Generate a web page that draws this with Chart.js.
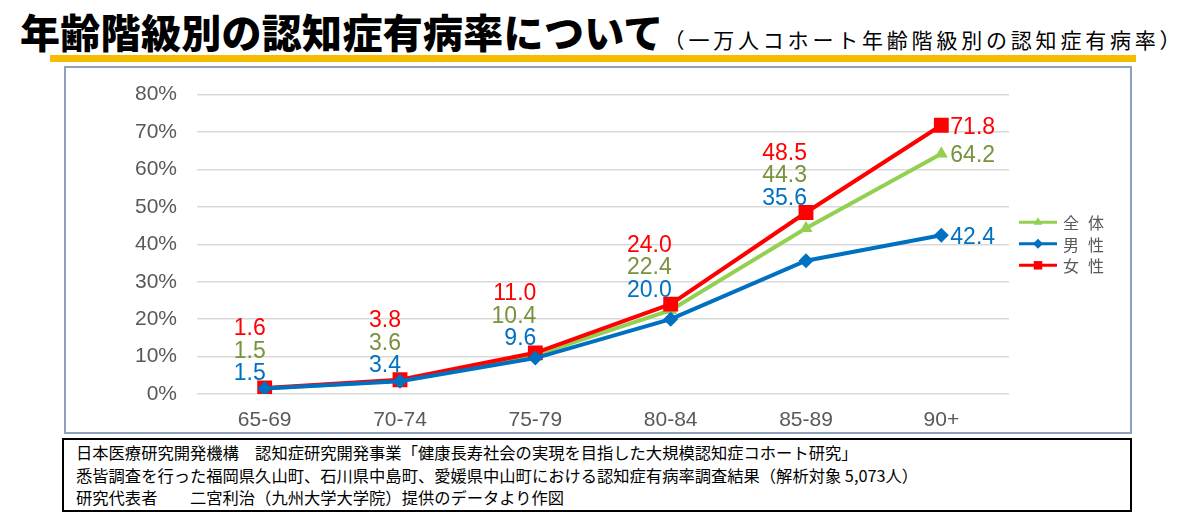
<!DOCTYPE html>
<html lang="ja">
<head>
<meta charset="utf-8">
<script src="https://cdn.jsdelivr.net/npm/chart.js@4"></script>
<style>
  body { margin: 0; width: 1200px; height: 526px; background: #fff; position: relative; overflow: hidden; font-family: "Noto Sans CJK JP", sans-serif; }
  #title { position: absolute; left: 20px; top: 2px; white-space: nowrap; color: #000; }
  #title .main { font-size: 40px; font-weight: 900; letter-spacing: 0.3px; }
  #title .sub { font-size: 21px; letter-spacing: 3.8px; }
  #bar { position: absolute; left: 50px; top: 55px; width: 1086px; height: 7px; background: #f5bd00; }
  #chartBox { position: absolute; left: 64px; top: 66px; width: 1064px; height: 364px; border: 2px solid #8fa2bd; }
  #chartBox canvas { position: absolute; left: 0; top: -6px; }
  #note { position: absolute; left: 62px; top: 438px; border: 2px solid #000; font-size: 16.3px; line-height: 22.5px; padding: 1px 0 0 12px; box-sizing: border-box; width: 1070px; height: 74px; color: #000; white-space: nowrap; }
</style>
</head>
<body>
<div id="title"><span class="main">年齢階級別の認知症有病率について</span><span class="sub">（一万人コホート年齢階級別の認知症有病率）</span></div>
<div id="bar"></div>
<div id="chartBox"><canvas id="canvas" width="1064" height="368"></canvas></div>
<div id="note">
  日本医療研究開発機構　認知症研究開発事業「健康長寿社会の実現を目指した大規模認知症コホート研究」<br>
  悉皆調査を行った福岡県久山町、石川県中島町、愛媛県中山町における認知症有病率調査結果（解析対象 5,073人）<br>
  研究代表者　　二宮利治（九州大学大学院）提供のデータより作図
</div>
<script>
// age groups on the x axis
const ageGroups = ['65-69', '70-74', '75-79', '80-84', '85-89', '90+'];
// prevalence (%) per group
const allValues = [1.5, 3.6, 10.4, 22.4, 44.3, 64.2];
const maleValues = [1.5, 3.4, 9.6, 20.0, 35.6, 42.4];
const femaleValues = [1.6, 3.8, 11.0, 24.0, 48.5, 71.8];
const seriesNames = ['全体', '男性', '女性'];
const yTicks = [0, 10, 20, 30, 40, 50, 60, 70, 80];

const lineColors = ['#92d050', '#0070c0', '#ff0000'];
const labelColors = ['#77933c', '#0070c0', '#ff0000'];
const markers = ['triangle', 'rectRot', 'rect'];

// value labels: stacked above the points, to the right on the last group
const valueLabels = {
  id: 'valueLabels',
  afterDatasetsDraw(chart) {
    const ctx = chart.ctx;
    const metas = [0, 1, 2].map(i => chart.getDatasetMeta(i));
    ctx.save();
    ctx.font = '23px "Liberation Sans", Arial, sans-serif';
    const last = ageGroups.length - 1;
    ageGroups.forEach((g, idx) => {
      if (idx < last) {
        const topY = Math.min(...metas.map(m => m.data[idx].y));
        const x = metas[2].data[idx].x + 1;
        // top to bottom: female, all, male
        const stack = [2, 0, 1];
        stack.forEach((ds, k) => {
          const v = chart.data.datasets[ds].data[idx];
          ctx.fillStyle = labelColors[ds];
          ctx.textAlign = 'right';
          ctx.textBaseline = 'middle';
          ctx.fillText(v.toFixed(1), x, topY - 59 + k * 22.5);
        });
      } else {
        [0, 1, 2].forEach(ds => {
          const p = metas[ds].data[idx];
          const v = chart.data.datasets[ds].data[idx];
          ctx.fillStyle = labelColors[ds];
          ctx.textAlign = 'left';
          ctx.textBaseline = 'middle';
          ctx.fillText(v.toFixed(1), p.x + 9, p.y + 2);
        });
      }
    });
    ctx.restore();
  }
};

// legend with line + marker, right of the plot
const lineLegend = {
  id: 'lineLegend',
  afterDraw(chart) {
    const ctx = chart.ctx;
    const area = chart.chartArea;
    const cy = (area.top + area.bottom) / 2;
    const x0 = area.right + 10;
    ctx.save();
    seriesNames.forEach((name, i) => {
      const y = cy - 22 + i * 21.5;
      ctx.strokeStyle = lineColors[i];
      ctx.lineWidth = 3;
      ctx.beginPath();
      ctx.moveTo(x0, y);
      ctx.lineTo(x0 + 38, y);
      ctx.stroke();
      ctx.fillStyle = lineColors[i];
      Chart.helpers.drawPoint(ctx, { pointStyle: markers[i], radius: i === 2 ? 6 : 5, borderWidth: 0 }, x0 + 19, y);
      ctx.fillStyle = '#595959';
      ctx.font = '16px "Noto Sans CJK JP", sans-serif';
      ctx.textAlign = 'left';
      ctx.textBaseline = 'middle';
      [...name].forEach((ch, j) => ctx.fillText(ch, x0 + 44 + j * 25, y + 1));
    });
    ctx.restore();
  }
};

const values = [allValues, maleValues, femaleValues];
const datasets = values.map((data, i) => ({
  label: seriesNames[i],
  data: data,
  borderColor: lineColors[i],
  backgroundColor: lineColors[i],
  borderWidth: 4,
  pointStyle: markers[i],
  pointRadius: i === 2 ? 10.5 : 7.5,
  pointBorderWidth: 0,
  tension: 0,
  order: [2, 0, 1][i]
}));

var myChart = new Chart(document.getElementById('canvas'), {
  type: 'line',
  data: { labels: ageGroups, datasets: datasets },
  plugins: [valueLabels, lineLegend],
  options: {
    responsive: false,
    animation: false,
    layout: { padding: { top: 10, right: 121, bottom: 0, left: 0 } },
    plugins: { legend: { display: false }, tooltip: { enabled: false } },
    scales: {
      x: {
        offset: true,
        grid: { display: false, drawTicks: false },
        border: { display: false },
        ticks: { color: '#595959', padding: 14, font: { size: 21, family: '"Liberation Sans", Arial, sans-serif' } },
        afterFit(scale) { scale.height = 36; }
      },
      y: {
        min: 0,
        max: 80,
        afterBuildTicks(scale) { scale.ticks = yTicks.map(v => ({ value: v })); },
        grid: { color: '#d9d9d9', lineWidth: 1.5, drawTicks: false },
        border: { display: false },
        ticks: { color: '#595959', padding: 20, callback: v => v + '%', font: { size: 21, family: '"Liberation Sans", Arial, sans-serif' } },
        afterFit(scale) { scale.width = 131; }
      }
    }
  }
});
</script>
</body>
</html>
